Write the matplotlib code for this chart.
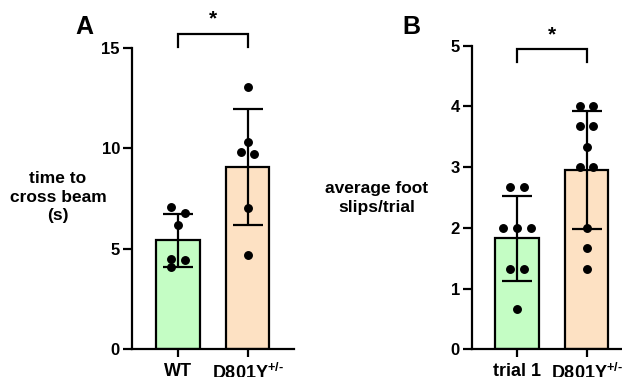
import numpy as np
import matplotlib
matplotlib.use("Agg")
import matplotlib.pyplot as plt

plt.rcParams['font.family'] = ['Liberation Sans', 'DejaVu Sans']
plt.rcParams['font.weight'] = 'bold'
plt.rcParams['mathtext.fontset'] = 'custom'
plt.rcParams['mathtext.rm'] = 'Liberation Sans:bold'
plt.rcParams['mathtext.bf'] = 'Liberation Sans:bold'
plt.rcParams['mathtext.it'] = 'Liberation Sans:bold'

# ---- Data ----
a_categories = ['WT', 'D801Y$^{+/\\text{-}}$']
a_means = [5.43, 9.08]
a_sd = [1.31, 2.89]
a_wt = [7.06, 6.81, 6.21, 4.52, 4.43, 4.10]
a_mut = [13.07, 10.33, 9.83, 9.72, 7.01, 4.68]
a_yticks = [0, 5, 10, 15]

b_categories = ['trial 1', 'D801Y$^{+/\\text{-}}$']
b_means = [1.83, 2.95]
b_sd = [0.70, 0.97]
b_trial1 = [2.67, 2.67, 2.0, 2.0, 2.0, 1.33, 1.33, 0.67]
b_mut = [4.0, 4.0, 3.67, 3.67, 3.33, 3.0, 3.0, 2.0, 1.67, 1.33]
b_yticks = [0, 1, 2, 3, 4, 5]

colors = ['#c4fdc4', '#fde1c3']
LW = 1.6


def swarm_offsets(vals, thresh, step=0.2):
    vals = list(vals)
    order = sorted(range(len(vals)), key=lambda i: -vals[i])
    offs = [0.0] * len(vals)
    groups = []
    cur = [order[0]]
    for i in order[1:]:
        if abs(vals[cur[-1]] - vals[i]) < thresh:
            cur.append(i)
        else:
            groups.append(cur)
            cur = [i]
    groups.append(cur)
    for g in groups:
        n = len(g)
        if n == 1:
            continue
        gv = [vals[i] for i in g]
        if max(gv) - min(gv) < 1e-9:
            for k, i in enumerate(g):
                offs[i] = (k - (n - 1) / 2) * step
        else:
            for k, i in enumerate(g):
                offs[i] = -step / 2 if k % 2 == 0 else step / 2
    return np.array(offs)


def panel(ax, cats, means, sds, groups, yticks, ylim, xlim, thresh, ylabel, letter,
          bracket, star_y, letter_xy, ylabel_xy):
    x = np.arange(len(cats))
    ax.bar(x, means, width=0.63, color=colors, edgecolor='black', linewidth=LW, zorder=1)
    for xi, g in zip(x, groups):
        offs = swarm_offsets(g, thresh)
        ax.plot(xi + offs, g, 'o', color='black', markersize=5.4, zorder=3, clip_on=False)
    ax.errorbar(x, means, yerr=sds, fmt='none', ecolor='black', elinewidth=LW,
                capsize=11, capthick=LW, zorder=4)
    ax.set_xlim(*xlim)
    ax.set_ylim(*ylim)
    ax.set_yticks(yticks)
    ax.set_xticks(x)
    ax.set_xticklabels(cats, fontsize=13, fontweight='bold')
    ax.tick_params(axis='y', labelsize=12, width=LW, length=6.5, pad=2)
    ax.tick_params(axis='x', width=LW, length=5.5, pad=4.5)
    for lab in ax.get_yticklabels():
        lab.set_fontweight('bold')
    for s in ['top', 'right']:
        ax.spines[s].set_visible(False)
    for s in ['left', 'bottom']:
        ax.spines[s].set_linewidth(LW)
    # bracket
    y0, y1 = bracket
    ax.plot([x[0], x[0], x[1], x[1]], [y0, y1, y1, y0], color='black', lw=LW,
            clip_on=False, solid_joinstyle='miter')
    ax.text((x[0] + x[1]) / 2, star_y, '*', ha='center', va='center', fontsize=15,
            fontweight='bold', clip_on=False)
    fig = ax.figure
    fig.text(letter_xy[0], letter_xy[1], letter, fontsize=18, fontweight='bold',
             ha='center', va='center')
    fig.text(ylabel_xy[0], ylabel_xy[1], ylabel, fontsize=12.5, fontweight='bold',
             ha='center', va='center', linespacing=1.3)


fig = plt.figure(figsize=(6.22, 3.77), dpi=100)
W, H = 622, 377

axA = fig.add_axes([131.7 / W, 1 - 349.3 / H, (294.3 - 131.7) / W, (349.3 - 48) / H])
panel(axA, a_categories, a_means, a_sd, [a_wt, a_mut], a_yticks, (0, 15),
      (-0.666, 1.673), 0.35, 'time to\ncross beam\n(s)', 'A', (15.06, 15.7), 16.45,
      (84 / W, 1 - 27 / H), (58 / W, 1 - 197 / H))

axB = fig.add_axes([471.7 / W, 1 - 349.3 / H, (621 - 471.7) / W, (349.3 - 45.7) / H])
panel(axB, b_categories, b_means, b_sd, [b_trial1, b_mut], b_yticks, (0, 5),
      (-0.652, 1.496), 0.115, 'average foot\nslips/trial', 'B', (4.73, 4.95), 5.17,
      (411 / W, 1 - 27 / H), (377 / W, 1 - 198 / H))

fig.savefig('out.png', dpi=100)
